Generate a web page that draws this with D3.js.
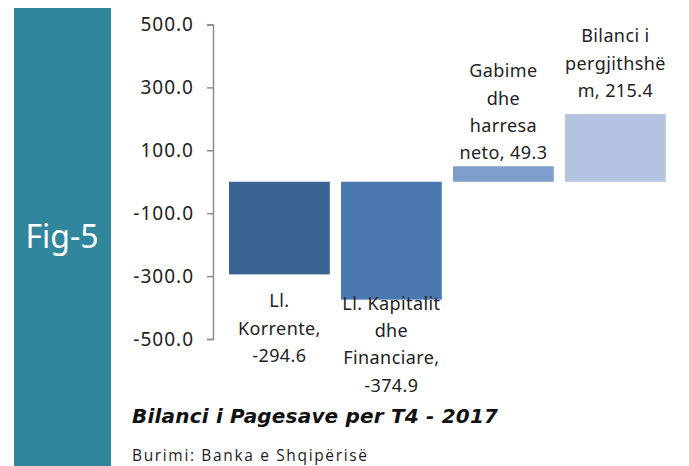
<!DOCTYPE html>
<html>
<head>
<meta charset="utf-8">
<script src="https://cdn.jsdelivr.net/npm/d3@7"></script>
<style>
  body { margin: 0; background: #fff; }
  svg { display: block; }
</style>
</head>
<body>
<svg id="chart" width="689" height="466"></svg>
<script>
// data
const categories = ['Ll. Korrente', 'Ll. Kapitalit dhe Financiare', 'Gabime dhe harresa neto', 'Bilanci i pergjithshëm']
const values = [-294.6, -374.9, 49.3, 215.4]
const labelLines = [
  ['Ll.', 'Korrente,', '-294.6'],
  ['Ll. Kapitalit', 'dhe', 'Financiare,', '-374.9'],
  ['Gabime', 'dhe', 'harresa', 'neto, 49.3'],
  ['Bilanci i', 'pergjithshë', 'm, 215.4'],
]
const yTicks = [500, 300, 100, -100, -300, -500]
const barColors = ['#3b6493', '#4a78b0', '#7e9ecb', '#b4c4e0']

// NOTE: label nudges (px) relative to bar end
const labelNudge = [26, 3, -14, -24]

const svg = d3.select('#chart')

// NOTE: side panel
svg.append('rect')
  .attr('x', 14).attr('y', 8)
  .attr('width', 97).attr('height', 458)
  .attr('fill', '#31859c')

svg.append('text')
  .attr('x', 62).attr('y', 248)
  .attr('text-anchor', 'middle')
  .attr('font-family', 'Noto Sans')
  .attr('font-size', 32)
  .attr('fill', '#fff')
  .text('Fig-5')

const y = d3.scaleLinear().domain([-500, 500]).range([339, 24.5])
const x = d3.scaleBand()
  .domain(categories)
  .range([217.8, 677])
  .paddingInner(0.1)
  .paddingOuter(0.1)

// NOTE: axis, hyphen as minus like the original
const fmt = d => d3.format('.1f')(d).replace('−', '-')
const axis = svg.append('g')
  .attr('transform', 'translate(213,0)')
  .call(d3.axisLeft(y).tickValues(yTicks).tickSize(6).tickPadding(13).tickFormat(fmt))

axis.select('.domain').attr('stroke', '#8c8c8c').attr('stroke-width', 1.5)
axis.selectAll('.tick line').attr('stroke', '#8c8c8c').attr('stroke-width', 1.5)
axis.selectAll('.tick text')
  .attr('font-family', 'Noto Sans')
  .attr('font-size', 19)
  .attr('letter-spacing', 1)
  .attr('fill', '#222')

// NOTE: bars
svg.append('g')
  .selectAll('rect')
  .data(values)
  .join('rect')
  .attr('x', (d, i) => x(categories[i]))
  .attr('y', d => y(Math.max(0, d)))
  .attr('width', x.bandwidth())
  .attr('height', d => Math.abs(y(d) - y(0)))
  .attr('fill', (d, i) => barColors[i])

// NOTE: data labels
const lineH = 27.3
svg.append('g')
  .selectAll('text')
  .data(values)
  .join('text')
  .attr('text-anchor', 'middle')
  .attr('font-family', 'Noto Sans')
  .attr('font-size', 18)
  .attr('letter-spacing', 0.4)
  .attr('fill', '#222')
  .attr('dominant-baseline', 'central')
  .each(function (d, i) {
    const lines = labelLines[i]
    const cx = x(categories[i]) + x.bandwidth() / 2
    const first = d < 0
      ? y(d) + labelNudge[i]
      : y(d) + labelNudge[i] - (lines.length - 1) * lineH
    d3.select(this)
      .selectAll('tspan')
      .data(lines)
      .join('tspan')
      .attr('x', cx)
      .attr('y', (l, j) => first + j * lineH)
      .text(l => l)
  })

// NOTE: title and source
svg.append('text')
  .attr('x', 132).attr('y', 423)
  .attr('font-family', 'DejaVu Sans')
  .attr('font-size', 20)
  .attr('font-weight', 'bold')
  .attr('font-style', 'italic')
  .attr('fill', '#111')
  .attr('textLength', 366)
  .attr('lengthAdjust', 'spacing')
  .text('Bilanci i Pagesave per T4 - 2017')

svg.append('text')
  .attr('x', 132).attr('y', 461)
  .attr('font-family', 'Open Sans')
  .attr('font-size', 15.5)
  .attr('fill', '#222')
  .attr('textLength', 235)
  .attr('lengthAdjust', 'spacing')
  .text('Burimi: Banka e Shqipërisë')
</script>
</body>
</html>
